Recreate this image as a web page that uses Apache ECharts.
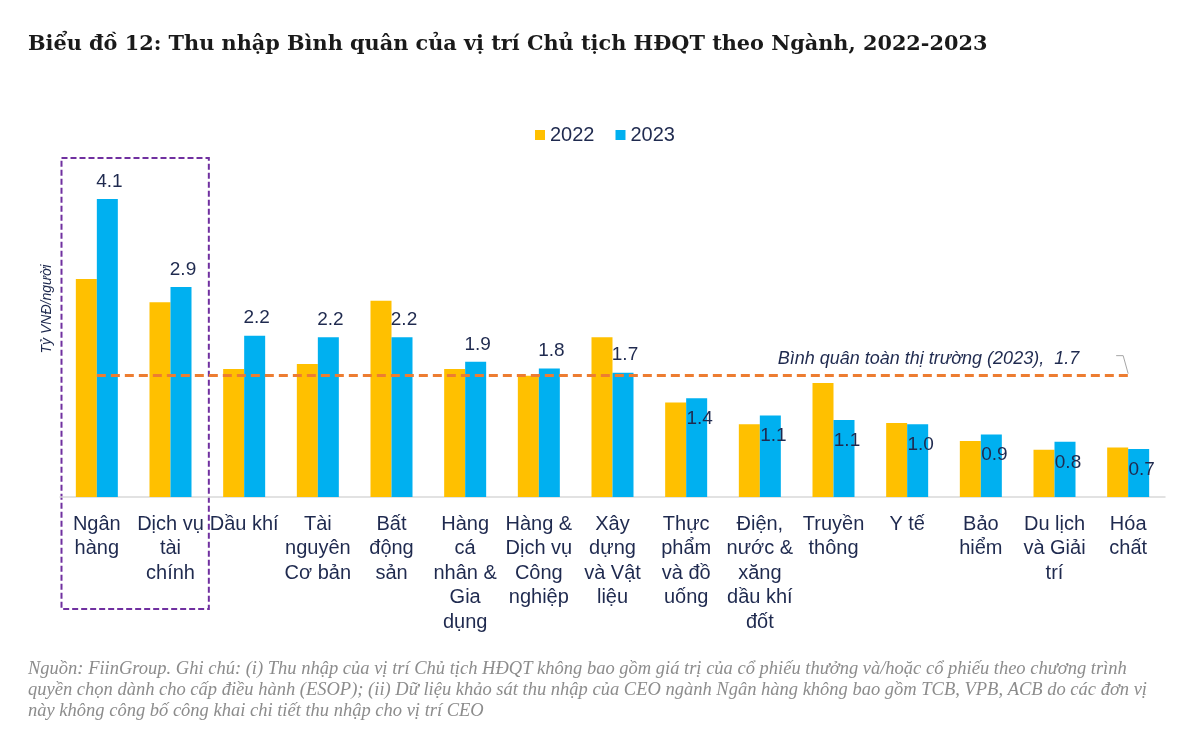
<!DOCTYPE html>
<html>
<head>
<meta charset="utf-8">
<script src="https://cdn.jsdelivr.net/npm/echarts@6/dist/echarts.min.js"></script>
<style>
html,body{margin:0;padding:0;background:#fff;}
#c{width:1180px;height:731px;}
</style>
</head>
<body>
<div id="c"></div>
<script>
const categories = ['Ngân hàng','Dịch vụ tài chính','Dầu khí','Tài nguyên Cơ bản','Bất động sản','Hàng cá nhân & Gia dụng','Hàng & Dịch vụ Công nghiệp','Xây dựng và Vật liệu','Thực phẩm và đồ uống','Điện, nước & xăng dầu khí đốt','Truyền thông','Y tế','Bảo hiểm','Du lịch và Giải trí','Hóa chất'];
const tickLabels = ['Ngân\nhàng','Dịch vụ\ntài\nchính','Dầu khí','Tài\nnguyên\nCơ bản','Bất\nđộng\nsản','Hàng\ncá\nnhân &\nGia\ndụng','Hàng &\nDịch vụ\nCông\nnghiệp','Xây\ndựng\nvà Vật\nliệu','Thực\nphẩm\nvà đồ\nuống','Điện,\nnước &\nxăng\ndầu khí\nđốt','Truyền\nthông','Y tế','Bảo\nhiểm','Du lịch\nvà Giải\ntrí','Hóa\nchất'];
const values2022 = [3.0, 2.68, 1.76, 1.83, 2.70, 1.76, 1.67, 2.20, 1.30, 1.00, 1.57, 1.02, 0.77, 0.65, 0.68];
const values2023 = [4.1, 2.89, 2.22, 2.20, 2.20, 1.86, 1.77, 1.71, 1.36, 1.12, 1.06, 1.00, 0.86, 0.76, 0.66];
const marketAvg2023 = 1.67;
const marketAvgLabel = 'Bình quân toàn thị trường (2023),  1.7';
const highlightedCats = [0, 1];
const titleText = 'Biểu đồ 12: Thu nhập Bình quân của vị trí Chủ tịch HĐQT theo Ngành, 2022-2023';
const yName = 'Tỷ VNĐ/người';
const noteText = 'Nguồn: FiinGroup. Ghi chú: (i) Thu nhập của vị trí Chủ tịch HĐQT không bao gồm giá trị của cổ phiếu thưởng và/hoặc cổ phiếu theo chương trình\nquyền chọn dành cho cấp điều hành (ESOP); (ii) Dữ liệu khảo sát thu nhập của CEO ngành Ngân hàng không bao gồm TCB, VPB, ACB do các đơn vị\nnày không công bố công khai chi tiết thu nhập cho vị trí CEO';

const navy = '#1F2A4F';
const labelFont = 'Liberation Sans, Arial, sans-serif';

const chart = echarts.init(document.getElementById('c'));

const data2023 = values2023.map((v, i) => {
  const inside = i >= 8;
  return {
    value: v,
    label: inside
      ? { position: 'insideTop', distance: 0, offset: [3, 11] }
      : { position: 'top', distance: 8, offset: [2, 0] }
  };
});

chart.setOption({
  animation: false,
  backgroundColor: '#fff',
  title: {
    text: titleText,
    left: 23, top: 29,
    textStyle: { fontFamily: 'DejaVu Serif, serif', fontWeight: 'bold', fontSize: 20.8, color: '#1a1a1a' }
  },
  legend: {
    data: ['2022', '2023'],
    left: 530, top: 120,
    icon: 'rect', itemWidth: 10, itemHeight: 10, itemGap: 21,
    textStyle: { fontFamily: labelFont, fontSize: 20, color: navy }
  },
  grid: { left: 60, right: 15, top: 170, bottom: 234, containLabel: false },
  xAxis: {
    type: 'category',
    data: categories,
    axisLine: { lineStyle: { color: '#d9d9d9', width: 1.5 } },
    axisTick: { show: false },
    axisLabel: {
      interval: 0, margin: 15, fontFamily: labelFont, fontSize: 20, lineHeight: 24.5, color: navy,
      formatter: (v, idx) => tickLabels[idx]
    }
  },
  yAxis: {
    type: 'value', min: 0, max: 4.5,
    axisLine: { show: false }, axisTick: { show: false }, axisLabel: { show: false },
    splitLine: { show: false }
  },
  series: [
    {
      name: '2022', type: 'bar', data: values2022,
      barWidth: 21, barGap: '0%',
      itemStyle: { color: '#FFC000' }
    },
    {
      name: '2023', type: 'bar', data: data2023,
      barWidth: 21, barGap: '0%',
      itemStyle: { color: '#00B0F0' },
      label: {
        show: true, fontFamily: labelFont, fontSize: 19, color: navy,
        formatter: p => p.value.toFixed(1)
      }
    },
    {
      name: 'avg', type: 'line', data: [], silent: true,
      markLine: {
        symbol: 'none', silent: true,
        lineStyle: { color: '#ED7D31', type: [9, 5], width: 3 },
        label: {
          show: true, position: 'insideEndTop', distance: [49, 8],
          formatter: marketAvgLabel,
          fontFamily: labelFont, fontStyle: 'italic', fontSize: 18, color: navy
        },
        data: [[{ coord: [0, marketAvg2023] }, { coord: [categories.length - 1, marketAvg2023] }]]
      }
    }
  ]
});

// annotations positioned from axis scales
const x0 = chart.convertToPixel({ xAxisIndex: 0 }, highlightedCats[0]);
const x1 = chart.convertToPixel({ xAxisIndex: 0 }, highlightedCats[highlightedCats.length - 1]);
const band = chart.convertToPixel({ xAxisIndex: 0 }, 1) - chart.convertToPixel({ xAxisIndex: 0 }, 0);
const yAvg = chart.convertToPixel({ yAxisIndex: 0 }, marketAvg2023);
const xEnd = chart.convertToPixel({ xAxisIndex: 0 }, categories.length - 1);

chart.setOption({
  graphic: [
    {
      type: 'rect', silent: true,
      shape: { x: x0 - band / 2 + 1.5, y: 158, width: (x1 - x0) + band, height: 451 },
      style: { fill: 'none', stroke: '#7030A0', lineWidth: 2, lineDash: [6, 3] }
    },
    {
      type: 'polyline', silent: true,
      shape: { points: [[xEnd - 12, yAvg - 20], [xEnd - 5, yAvg - 20], [xEnd, yAvg - 2]] },
      style: { fill: 'none', stroke: '#a6a6a6', lineWidth: 1 }
    },
    {
      type: 'text', silent: true,
      x: 47, y: 309, rotation: Math.PI / 2,
      style: { text: yName, font: 'italic 14px Liberation Sans, Arial, sans-serif', fill: navy, align: 'center', verticalAlign: 'middle' }
    },
    {
      type: 'text', silent: true,
      left: 28, top: 659,
      style: { text: noteText, font: 'italic 18.5px Liberation Serif, serif', fill: '#8c8c8c', lineHeight: 21 }
    }
  ]
});
</script>
</body>
</html>
